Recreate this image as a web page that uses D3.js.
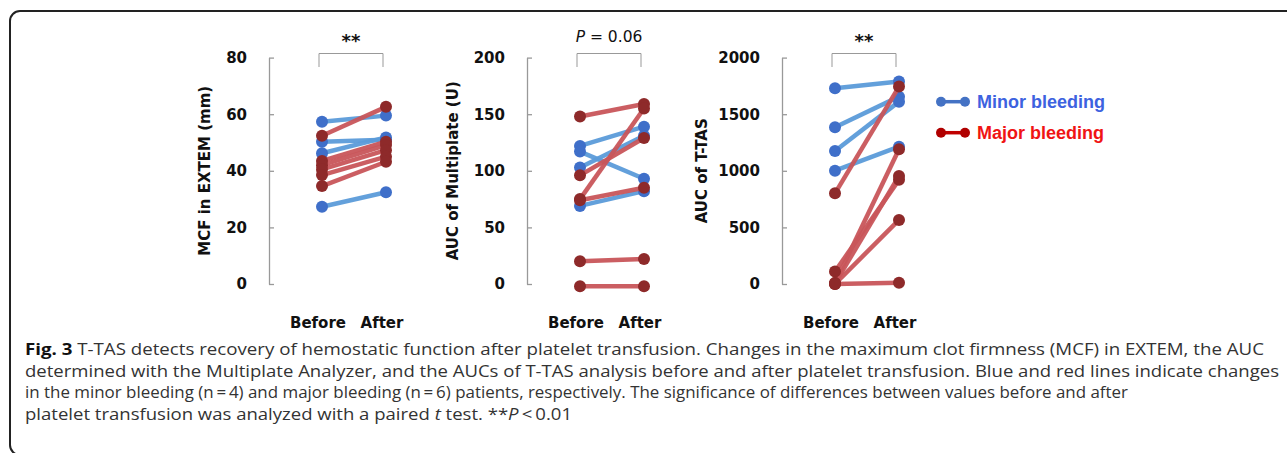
<!DOCTYPE html>
<html>
<head>
<meta charset="utf-8">
<script src="https://cdn.jsdelivr.net/npm/d3@7"></script>
<style>
  html, body { margin: 0; padding: 0; background: #fff; }
  svg { display: block; }
</style>
</head>
<body>
<div id="chart"></div>
<script>
// before / after values, one entry per patient
const phases = ["Before", "After"];

const mcfMinorBefore = [57.3, 50.3, 46.2, 27.3];
const mcfMinorAfter  = [59.5, 51.0, 51.8, 32.4];
const mcfMajorBefore = [52.4, 43.5, 42.0, 40.5, 38.5, 34.6];
const mcfMajorAfter  = [62.6, 50.3, 49.1, 47.3, 45.0, 43.2];

const mpMinorBefore = [122, 117, 103, 69];
const mpMinorAfter  = [139, 93, 131, 82];
const mpMajorBefore = [148, 96, 75, 74, 20, -2];
const mpMajorAfter  = [159, 129, 155, 85, 22, -2];

const ttasMinorBefore = [1730, 1385, 1175, 1001];
const ttasMinorAfter  = [1788, 1655, 1611, 1213];
const ttasMajorBefore = [801, 110, 10, 5, 0, 0];
const ttasMajorAfter  = [1744, 920, 1190, 954, 566, 12];

const mcfTicks  = [0, 20, 40, 60, 80];
const mpTicks   = [0, 50, 100, 150, 200];
const ttasTicks = [0, 500, 1000, 1500, 2000];

const yLabels = ["MCF in EXTEM (mm)", "AUC of Multiplate (U)", "AUC of T-TAS"];
const sigLabels = ["**", "P = 0.06", "**"];
const legendLabels = ["Minor bleeding", "Major bleeding"];

const captionLines = [
  [["Fig. 3", "bold"], [" T-TAS detects recovery of hemostatic function after platelet transfusion. Changes in the maximum clot firmness (MCF) in EXTEM, the AUC", ""]],
  [["determined with the Multiplate Analyzer, and the AUCs of T-TAS analysis before and after platelet transfusion. Blue and red lines indicate changes", ""]],
  [["in the minor bleeding (n\u2009=\u20094) and major bleeding (n\u2009=\u20096) patients, respectively. The significance of differences between values before and after", ""]],
  [["platelet transfusion was analyzed with a paired ", ""], ["t", "italic"], [" test. **", ""], ["P", "italic"], ["\u2009<\u20090.01", ""]]
];

const width = 1287, height = 453;

const svg = d3.select("#chart").append("svg")
  .attr("width", width)
  .attr("height", height);

// frame around figure
svg.append("path")
  .attr("d", "M1295,11 H20 A10,10 0 0 0 10,21 V445 A10,10 0 0 0 20,455 H1295")
  .attr("fill", "none")
  .attr("stroke", "#222")
  .attr("stroke-width", 2);

const panels = [
  { axisX: 269, labelX: 205, ticks: mcfTicks, label: yLabels[0], sig: sigLabels[0],
    minor: [mcfMinorBefore, mcfMinorAfter], major: [mcfMajorBefore, mcfMajorAfter] },
  { axisX: 527, labelX: 453, ticks: mpTicks, label: yLabels[1], sig: sigLabels[1],
    minor: [mpMinorBefore, mpMinorAfter], major: [mpMajorBefore, mpMajorAfter] },
  { axisX: 782, labelX: 702, ticks: ttasTicks, label: yLabels[2], sig: sigLabels[2],
    minor: [ttasMinorBefore, ttasMinorAfter], major: [ttasMajorBefore, ttasMajorAfter] }
];

const colors = {
  minorLine: "#5b9bd9", minorDot: "#3f6fc9",
  majorLine: "#c8555a", majorDot: "#8e2a2a"
};

panels.forEach(p => {
  const y = d3.scaleLinear()
    .domain([0, d3.max(p.ticks)])
    .range([284, 57.6]);
  const x = d3.scalePoint()
    .domain(phases)
    .range([p.axisX + 53, p.axisX + 117]);

  const g = svg.append("g");

  // y axis, ticks point inward
  const axis = g.append("g")
    .attr("transform", `translate(${p.axisX},0)`)
    .call(d3.axisLeft(y).tickValues(p.ticks).tickFormat(d3.format("d"))
      .tickSizeInner(-5).tickSizeOuter(0).tickPadding(22));
  axis.select(".domain").attr("stroke", "#999").attr("stroke-width", 1.3);
  axis.selectAll(".tick line").attr("stroke", "#999").attr("stroke-width", 1.3);
  axis.selectAll(".tick text")
    .attr("font-family", "DejaVu Sans")
    .attr("font-weight", "bold")
    .attr("font-size", 15)
    .attr("fill", "#111");

  // y label
  g.append("text")
    .attr("transform", `translate(${p.labelX},${(284 + 57.6) / 2}) rotate(-90)`)
    .attr("text-anchor", "middle")
    .attr("dominant-baseline", "central")
    .attr("font-family", "DejaVu Sans")
    .attr("font-weight", "bold")
    .attr("font-size", 15)
    .attr("fill", "#111")
    .text(p.label);

  // x labels
  g.selectAll(".xl")
    .data(phases)
    .join("text")
    .attr("x", d => x(d) - 4)
    .attr("y", 328)
    .attr("text-anchor", "middle")
    .attr("font-family", "DejaVu Sans")
    .attr("font-weight", "bold")
    .attr("font-size", 15)
    .attr("fill", "#111")
    .text(d => d);

  // significance bracket
  const bx0 = x("Before") - 3, bx1 = x("After") - 3;
  g.append("path")
    .attr("d", `M${bx0},67 V53.5 H${bx1} V67`)
    .attr("fill", "none")
    .attr("stroke", "#999")
    .attr("stroke-width", 1);

  const sig = g.append("text")
    .attr("x", (bx0 + bx1) / 2)
    .attr("text-anchor", "middle")
    .attr("font-family", "DejaVu Sans")
    .attr("fill", "#111");
  if (p.sig === "**") {
    sig.attr("y", 47).attr("font-size", 18).attr("font-weight", "bold").text(p.sig);
  } else {
    sig.attr("y", 42).attr("font-size", 15.5);
    sig.append("tspan").attr("font-style", "italic").text("P");
    sig.append("tspan").text(p.sig.slice(1));
  }

  // paired lines + dots, minor then major
  [["minor", p.minor], ["major", p.major]].forEach(([key, [bef, aft]]) => {
    const pairs = bef.map((b, i) => [b, aft[i]]);
    const sg = g.append("g");
    sg.selectAll("line")
      .data(pairs)
      .join("line")
      .attr("x1", x("Before"))
      .attr("x2", x("After"))
      .attr("y1", d => y(d[0]))
      .attr("y2", d => y(d[1]))
      .attr("stroke", colors[key + "Line"])
      .attr("stroke-width", 4.5)
      .attr("stroke-opacity", 0.95);
    const dots = [];
    pairs.forEach(d => { dots.push(["Before", d[0]]); dots.push(["After", d[1]]); });
    sg.selectAll("circle")
      .data(dots)
      .join("circle")
      .attr("cx", d => x(d[0]))
      .attr("cy", d => y(d[1]))
      .attr("r", 6)
      .attr("fill", colors[key + "Dot"]);
  });
});

// legend
const legend = svg.append("g");
const legendStyle = [
  { line: "#4472c4", dot: "#4472c4", text: "#3d62e0", y: 101.7 },
  { line: "#c00000", dot: "#b00000", text: "#f01414", y: 132.7 }
];
legendLabels.forEach((lab, i) => {
  const s = legendStyle[i];
  legend.append("line")
    .attr("x1", 941).attr("x2", 965)
    .attr("y1", s.y).attr("y2", s.y)
    .attr("stroke", s.line).attr("stroke-width", 3.5);
  [941, 965].forEach(cx => legend.append("circle")
    .attr("cx", cx).attr("cy", s.y).attr("r", 5).attr("fill", s.dot));
  legend.append("text")
    .attr("x", 977)
    .attr("y", s.y + 6.5)
    .attr("font-family", "Liberation Sans, Arial, sans-serif")
    .attr("font-weight", "bold")
    .attr("font-size", 18)
    .attr("fill", s.text)
    .text(lab);
});

// caption
const capBase = [355, 376.5, 398, 419.5];
const capEnd = [1264, 1279, 1128, 572];
captionLines.forEach((parts, i) => {
  const t = svg.append("text")
    .attr("x", 25)
    .attr("y", capBase[i])
    .attr("font-family", "Open Sans, sans-serif")
    .attr("font-size", 16.5)
    .attr("fill", "#333");
  parts.forEach(([str, style]) => {
    const ts = t.append("tspan").text(str);
    if (style === "bold") ts.attr("font-weight", "bold").attr("fill", "#111");
    if (style === "italic") ts.attr("font-style", "italic");
  });
  t.attr("textLength", capEnd[i] - 25).attr("lengthAdjust", "spacingAndGlyphs");
});
</script>
</body>
</html>
